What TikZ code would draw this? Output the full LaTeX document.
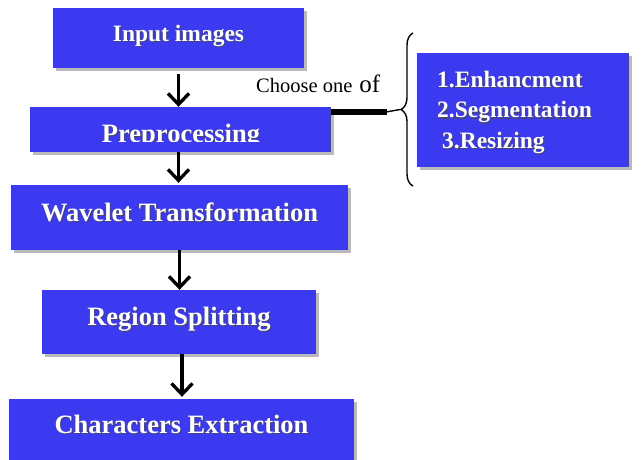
\documentclass[tikz,border=0pt]{standalone}
\usepackage{fontspec}
\setmainfont{Liberation Serif}
\usetikzlibrary{arrows.meta,shadows,decorations.pathreplacing,calc}
\definecolor{boxblue}{RGB}{60,58,240}
\definecolor{txtshadow}{RGB}{70,70,110}
% white bold label with a small grey offset shadow behind it
\newcommand\shtxt[1]{\leavevmode\rlap{\kern1.4pt\raisebox{-1.4pt}{\textcolor{txtshadow}{#1}}}#1}
\tikzset{
  stepbox/.style={draw=none, fill=boxblue, inner sep=0pt, text=white,
    text height=18pt, text depth=11pt,
    font=\bfseries\fontsize{26.5}{30}\selectfont,
    drop shadow={shadow xshift=3pt, shadow yshift=-3pt, fill=black, opacity=0.27}},
  arr/.style={line width=3.3pt, -{Straight Barb[length=11pt,width=21pt]}},
}
\begin{document}
\begin{tikzpicture}[x=1pt,y=-1pt]
\useasboundingbox (0,0) rectangle (644,459);
% main pipeline boxes
\node[stepbox, minimum width=251pt, minimum height=60pt, font=\bfseries\fontsize{23.5}{28}\selectfont]
  (in) at (178.5,38) {\shtxt{Input images}};
\node[stepbox, minimum width=301pt, minimum height=45pt] (pre) at (180.5,129.5) {};
\begin{scope}
  \clip (30,107) rectangle (331,141);
  \node[text=white, font=\bfseries\fontsize{26.5}{30}\selectfont, inner sep=0pt, anchor=base]
    (pretxt) at (181,142.5) {\shtxt{Preprocessing}};
\end{scope}
\node[stepbox, minimum width=337pt, minimum height=65pt] (wav) at (179.5,217.5) {\shtxt{Wavelet Transformation}};
\node[stepbox, minimum width=274pt, minimum height=64pt] (reg) at (179,322) {\shtxt{Region Splitting}};
\node[stepbox, minimum width=345pt, minimum height=62pt] (chr) at (181.5,430) {\shtxt{Characters Extraction}};

% options box
\node[stepbox, minimum width=212pt, minimum height=114pt] (opt) at (523,110) {};
\node[text=white, font=\bfseries\fontsize{23.5}{30.5}\selectfont, inner sep=0pt, anchor=west, align=left]
  (opttxt) at (437,113) {\shtxt{1.Enhancment}\\\shtxt{2.Segmentation}\\\hspace{5pt}\shtxt{3.Resizing}};

% brace and its link to the preprocessing step
\coordinate (btop) at (413,33);
\coordinate (bbot) at (413,186);
\draw[line width=1.4pt, decorate, decoration={brace, amplitude=12pt}] (bbot) -- (btop);
\coordinate (btip) at (400,109.5);
\coordinate (lkend) at (387,112);
\draw[line width=6pt] (pre.north east |- lkend) -- (lkend);
\draw[line width=1.4pt] ([xshift=-1pt]lkend) -- (btip);

\node[anchor=base west, inner sep=0pt] (choose) at (256,92.5)
  {\fontsize{20.5}{24}\selectfont Choose one\hspace{7pt}\fontsize{25}{28}\selectfont of};

% flow arrows
\draw[arr] ([yshift=-6pt]in.south) -- (in.south |- pre.north);
\draw[arr] ([xshift=-2pt]pre.south) -- ([xshift=-2pt,yshift=2pt]pre.south |- wav.north);
\draw[arr] (wav.south) -- (wav.south |- reg.north);
\draw[arr] ([xshift=3pt]reg.south) -- ([xshift=3pt,yshift=2pt]reg.south |- chr.north);
\end{tikzpicture}
\end{document}
